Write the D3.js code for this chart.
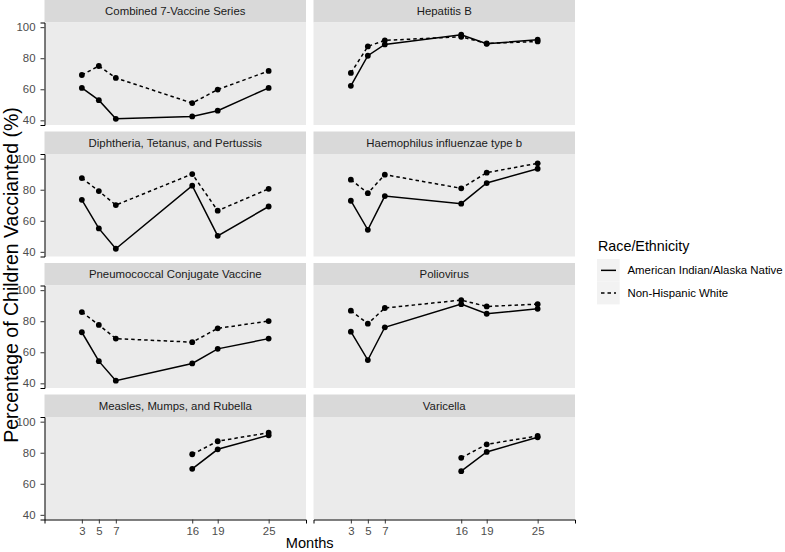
<!DOCTYPE html>
<html><head><meta charset="utf-8">
<script src="https://cdn.jsdelivr.net/npm/d3@7"></script>
<style>body{margin:0;background:#fff;} svg{display:block;font-family:"Liberation Sans",Arial,sans-serif;}</style>
</head><body>
<script>
const months = [3, 5, 7, 16, 19, 25];
const vaccines = ["Combined 7-Vaccine Series", "Hepatitis B", "Diphtheria, Tetanus, and Pertussis", "Haemophilus influenzae type b", "Pneumococcal Conjugate Vaccine", "Poliovirus", "Measles, Mumps, and Rubella", "Varicella"];
const seriesNames = ["American Indian/Alaska Native", "Non-Hispanic White"];
const aian = [
  [60.9, 53.0, 41.0, 42.5, 46.2, 60.9],
  [62.2, 81.6, 88.9, 95.1, 89.3, 91.9],
  [73.5, 55.1, 42.0, 82.6, 50.3, 69.2],
  [72.9, 54.2, 75.9, 71.0, 84.3, 93.5],
  [72.9, 54.3, 41.7, 52.8, 62.2, 68.8],
  [73.3, 55.0, 76.1, 91.0, 84.8, 88.0],
  [null, null, null, 69.6, 82.2, 91.2],
  [null, null, null, 68.1, 80.5, 89.9]
];
const nhw = [
  [69.2, 75.0, 67.3, 51.1, 59.8, 71.8],
  [70.5, 87.6, 91.5, 93.8, 89.5, 90.8],
  [87.5, 79.1, 70.1, 90.1, 66.5, 80.6],
  [86.5, 77.8, 89.7, 80.9, 91.0, 97.0],
  [85.9, 77.6, 68.8, 66.5, 75.4, 80.1],
  [86.8, 78.4, 88.5, 93.6, 89.5, 91.0],
  [null, null, null, 79.0, 87.4, 92.9],
  [null, null, null, 76.7, 85.4, 90.8]
];
const yTicks = [40, 60, 80, 100];
const xTicks = [3, 5, 7, 16, 19, 25];

const W = 785, H = 552;
const left = 44.5, pw = 261.5, colGap = 7.5;
const top0 = 0, stripH = 22.5, ph = 102.5, rowGap = 6.5;

const svg = d3.select("body").append("svg").attr("width", W).attr("height", H);
const x = d3.scaleLinear().domain([-1.4, 29.4]).range([0, pw]);
const y = d3.scaleLinear().domain([37, 103]).range([ph, 0]);
const dashes = [null, "3.5,3"];
const FONT = "Liberation Sans, Arial, sans-serif";

vaccines.forEach((name, i) => {
  const col = i % 2, row = Math.floor(i / 2);
  const px = left + col * (pw + colGap);
  const py = top0 + row * (stripH + ph + rowGap);
  const g = svg.append("g").attr("transform", `translate(${px},${py})`);
  g.append("rect").attr("width", pw).attr("height", stripH).attr("fill", "#d9d9d9");
  g.append("text").attr("x", pw / 2).attr("y", stripH / 2).attr("dy", "0.35em")
    .attr("text-anchor", "middle").attr("font-size", 11.4).attr("fill", "#1a1a1a").text(name);
  const p = g.append("g").attr("transform", `translate(0,${stripH})`);
  p.append("rect").attr("width", pw).attr("height", ph).attr("fill", "#ebebeb");
  [aian[i], nhw[i]].forEach((vals, s) => {
    const pts = months.map((m, k) => ({m, v: vals[k]})).filter(d => d.v !== null);
    p.append("path").datum(pts)
      .attr("d", d3.line().x(d => x(d.m)).y(d => y(d.v)))
      .attr("fill", "none").attr("stroke", "#000").attr("stroke-width", 1.5)
      .attr("stroke-dasharray", dashes[s]);
    p.selectAll(null).data(pts).enter().append("circle")
      .attr("cx", d => x(d.m)).attr("cy", d => y(d.v)).attr("r", 2.9).attr("fill", "#000");
  });
  if (col === 0) {
    const ax = p.append("g").call(d3.axisLeft(y).tickValues(yTicks).tickSize(4).tickPadding(5));
    ax.select(".domain").attr("stroke", "#000").attr("stroke-width", 1);
    ax.selectAll(".tick line").attr("stroke", "#333");
    ax.selectAll("text").attr("font-size", 11.4).attr("fill", "#4d4d4d").attr("font-family", FONT);
  }
  if (row === 3) {
    const ax = p.append("g").attr("transform", `translate(0,${ph})`)
      .call(d3.axisBottom(x).tickValues(xTicks).tickSize(4).tickPadding(3));
    ax.select(".domain").attr("stroke", "#000").attr("stroke-width", 1);
    ax.selectAll(".tick line").attr("stroke", "#333");
    ax.selectAll("text").attr("font-size", 11.4).attr("fill", "#4d4d4d").attr("font-family", FONT);
  }
});

svg.append("text").attr("x", left + pw + colGap / 2).attr("y", 548)
  .attr("text-anchor", "middle").attr("font-size", 14.6).attr("fill", "#000").text("Months");
svg.append("text").attr("transform", `translate(18,275) rotate(-90)`)
  .attr("text-anchor", "middle").attr("font-size", 19.5).attr("fill", "#000")
  .text("Percentage of Children Vaccianted (%)");

const lg = svg.append("g").attr("transform", "translate(597,241)");
lg.append("text").attr("x", 1).attr("y", 10).attr("font-size", 14.3).attr("fill", "#000").text("Race/Ethnicity");
seriesNames.forEach((n, s) => {
  const ky = 18 + s * 22.7;
  lg.append("rect").attr("x", 0).attr("y", ky).attr("width", 22.7).attr("height", 22.7).attr("fill", "#f2f2f2");
  lg.append("line").attr("x1", 4).attr("x2", 19).attr("y1", ky + 11.35).attr("y2", ky + 11.35)
    .attr("stroke", "#000").attr("stroke-width", 1.5).attr("stroke-dasharray", dashes[s]);
  lg.append("text").attr("x", 30.5).attr("y", ky + 11.35).attr("dy", "0.35em")
    .attr("font-size", 11.4).attr("fill", "#000").text(n);
});
</script>
</body></html>
